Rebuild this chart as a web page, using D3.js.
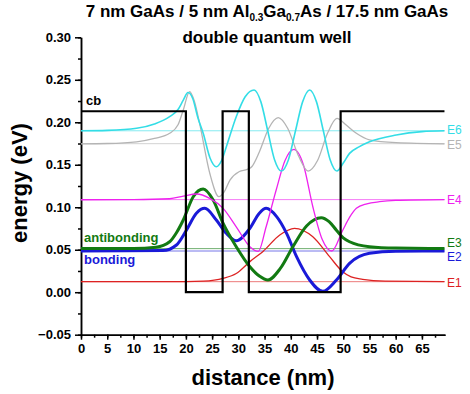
<!DOCTYPE html>
<html>
<head>
<meta charset="utf-8">
<script src="https://cdn.jsdelivr.net/npm/d3@7"></script>
<style>
  body { margin: 0; background: #fff; }
  svg { font-family: "Liberation Sans", Arial, sans-serif; }
  .axis path, .axis line { stroke: #000; stroke-width: 1.5px; }
  .axis text { font-size: 13px; font-weight: bold; fill: #000; }
</style>
</head>
<body>
<div id="chart"></div>
<script>
// Double quantum well: conduction band, levels and wavefunctions

// Conduction band profile (nm, eV)
var cbX = [0, 20, 20, 27, 27, 32, 32, 49.5, 49.5, 69.3];
var cbE = [0.213, 0.213, 0, 0, 0.213, 0.213, 0, 0, 0.213, 0.213];

// Energy levels
var levelNames = ["E1", "E2", "E3", "E4", "E5", "E6"];
var levelValues = [0.0124, 0.0485, 0.0513, 0.1090, 0.1748, 0.1900];
var levelColors = ["#dd2222", "#1a1ad8", "#127a12", "#ee22ee", "#b4b4b4", "#33dde6"];
var labelShift = [1, 6, -6, 0, 1, -1];

// Wavefunctions: [distance, energy]
var psiE1 = [[0, 0.0124], [20, 0.0125], [23.3, 0.013], [27.1, 0.0163], [29.6, 0.022], [32.2, 0.036],
  [34.7, 0.048], [37.9, 0.0673], [40.7, 0.0752], [44.2, 0.0653], [47.4, 0.0418], [49.9, 0.0241],
  [51.5, 0.018], [53.7, 0.0152], [58, 0.013], [69.3, 0.0124]];
var psiE2 = [[0, 0.0485], [15.6, 0.049], [18.2, 0.0556], [20.1, 0.073], [22, 0.0929], [23.6, 0.0987],
  [25.8, 0.085], [27.7, 0.0693], [29.6, 0.0606], [32.2, 0.0752], [34, 0.093], [35.3, 0.0987],
  [37.3, 0.089], [39.2, 0.0693], [41.1, 0.0418], [43.6, 0.0144], [46.1, 0.001], [48.7, 0.0144],
  [51.2, 0.034], [55, 0.0458], [60, 0.0483], [69.3, 0.0485]];
var psiE3 = [[0, 0.0515], [10, 0.0515], [14.3, 0.053], [16.9, 0.0594], [18.2, 0.070], [19.5, 0.085],
  [21.4, 0.1124], [23.3, 0.1215], [25.2, 0.1085], [27.1, 0.081], [29.6, 0.0536], [32.2, 0.030],
  [34, 0.019], [35.65, 0.0144], [38, 0.028], [40.4, 0.0536], [43, 0.078], [45.8, 0.0877],
  [47.3, 0.083], [48.7, 0.073], [50, 0.064], [51.2, 0.0594], [55, 0.0536], [60, 0.052], [69.3, 0.0515]];
var psiE4 = [[0, 0.1088], [10, 0.109], [16.9, 0.110], [19.5, 0.113], [22, 0.1156], [24.55, 0.1105],
  [27.1, 0.0987], [29.6, 0.077], [32.2, 0.0536], [33.8, 0.048], [35.3, 0.077], [37.2, 0.120],
  [38.9, 0.155], [40.6, 0.168], [42.4, 0.150], [44.2, 0.1006], [46, 0.062], [47.8, 0.0485],
  [49.9, 0.073], [51.2, 0.088], [52.5, 0.0987], [54.5, 0.104], [56.9, 0.1065], [60, 0.108], [69.3, 0.109]];
var psiE5 = [[0, 0.1746], [5, 0.175], [10.6, 0.177], [14, 0.181], [16.9, 0.187], [18.5, 0.197],
  [19.5, 0.2144], [20.7, 0.236], [21.6, 0.225], [22.6, 0.199], [24.55, 0.140], [26.3, 0.1124],
  [27.3, 0.118], [28.4, 0.132], [30.2, 0.142], [31.7, 0.1446], [32.6, 0.148], [34, 0.165],
  [35.8, 0.193], [37.6, 0.2054], [39.4, 0.193], [41.5, 0.160], [43.3, 0.1426], [45.1, 0.155],
  [47, 0.187], [48.8, 0.2046], [50.5, 0.197], [52.5, 0.187], [55, 0.1793], [60.1, 0.176], [69.3, 0.1746]];
var psiE6 = [[0, 0.190], [5, 0.1905], [10.6, 0.1929], [14, 0.198], [16.9, 0.2066], [18.5, 0.215],
  [19.5, 0.226], [20.4, 0.235], [21.3, 0.228], [22.3, 0.205], [23.3, 0.187], [24.6, 0.158],
  [25.8, 0.1477], [26.8, 0.155], [27.7, 0.171], [29.6, 0.2066], [31.3, 0.230], [33.0, 0.238],
  [34.3, 0.224], [35.6, 0.190], [36.9, 0.156], [38.2, 0.1426], [39.55, 0.156], [40.9, 0.190],
  [42.25, 0.224], [43.6, 0.238], [44.9, 0.224], [46.2, 0.190], [47.5, 0.156], [48.8, 0.1426],
  [50, 0.152], [51.2, 0.1634], [53, 0.171], [55, 0.177], [60.1, 0.185], [65, 0.189], [69.3, 0.190]];
var psiList = [psiE1, psiE2, psiE3, psiE4, psiE5, psiE6];
var psiWidths = [1.3, 3, 3, 1.3, 1.3, 1.6];

// Axis ticks
var xMajor = d3.range(0, 66, 5);
var xMinor = d3.range(0, 69.4, 2.5);
var yMajor = [-0.05, 0, 0.05, 0.10, 0.15, 0.20, 0.25, 0.30];
var yMinor = d3.range(-0.05, 0.301, 0.025);

var width = 470, height = 394;
var x = d3.scaleLinear().domain([0, 69.4]).range([81, 445]);
var y = d3.scaleLinear().domain([-0.05, 0.30]).range([334.7, 37.3]);

var svg = d3.select("#chart").append("svg")
  .attr("width", width)
  .attr("height", height);

// Title
var t1 = svg.append("text")
  .attr("x", 267).attr("y", 17)
  .attr("text-anchor", "middle")
  .attr("font-size", "17px").attr("font-weight", "bold");
t1.append("tspan").text("7 nm GaAs / 5 nm Al");
t1.append("tspan").attr("font-size", "10px").attr("dy", 4).text("0.3");
t1.append("tspan").attr("dy", -4).text("Ga");
t1.append("tspan").attr("font-size", "10px").attr("dy", 4).text("0.7");
t1.append("tspan").attr("dy", -4).text("As / 17.5 nm GaAs");

svg.append("text")
  .attr("x", 267).attr("y", 43)
  .attr("text-anchor", "middle")
  .attr("font-size", "17px").attr("font-weight", "bold")
  .text("double quantum well");

// Axes
svg.append("g").attr("class", "axis")
  .attr("transform", "translate(0," + y(-0.05) + ")")
  .call(d3.axisBottom(x).tickValues(xMinor).tickSize(3).tickFormat("").tickSizeOuter(0));
svg.append("g").attr("class", "axis")
  .attr("transform", "translate(0," + y(-0.05) + ")")
  .call(d3.axisBottom(x).tickValues(xMajor).tickSize(5).tickPadding(4).tickSizeOuter(0));
svg.append("g").attr("class", "axis")
  .attr("transform", "translate(" + x(0) + ",0)")
  .call(d3.axisLeft(y).tickValues(yMinor).tickSize(3).tickFormat("").tickSizeOuter(0));
svg.append("g").attr("class", "axis")
  .attr("transform", "translate(" + x(0) + ",0)")
  .call(d3.axisLeft(y).tickValues(yMajor).tickSize(6).tickPadding(4)
    .tickFormat(d3.format(".2f")).tickSizeOuter(0));

svg.append("text")
  .attr("x", 263).attr("y", 385)
  .attr("text-anchor", "middle")
  .attr("font-size", "22px").attr("font-weight", "bold")
  .text("distance (nm)");
svg.append("text")
  .attr("transform", "translate(27,183) rotate(-90)")
  .attr("text-anchor", "middle")
  .attr("font-size", "22px").attr("font-weight", "bold")
  .text("energy (eV)");

// Level lines
svg.append("g").selectAll("line")
  .data(levelValues)
  .enter().append("line")
    .attr("x1", x(0)).attr("x2", x(69.3))
    .attr("y1", function(d) { return y(d); })
    .attr("y2", function(d) { return y(d); })
    .attr("stroke", function(d, i) { return levelColors[i]; })
    .attr("stroke-opacity", 0.6)
    .attr("stroke-width", 1);

// Wavefunctions
var line = d3.line()
  .x(function(d) { return x(d[0]); })
  .y(function(d) { return y(d[1]); })
  .curve(d3.curveMonotoneX);

svg.append("g").selectAll("path")
  .data(psiList)
  .enter().append("path")
    .attr("d", line)
    .attr("fill", "none")
    .attr("stroke", function(d, i) { return levelColors[i]; })
    .attr("stroke-width", function(d, i) { return psiWidths[i]; });

// Conduction band
svg.append("path")
  .datum(d3.zip(cbX, cbE))
  .attr("d", d3.line().x(function(d) { return x(d[0]); }).y(function(d) { return y(d[1]); }))
  .attr("fill", "none")
  .attr("stroke", "#000")
  .attr("stroke-width", 2.2);

// Labels
svg.append("g").selectAll("text")
  .data(levelNames)
  .enter().append("text")
    .attr("x", 447)
    .attr("y", function(d, i) { return y(levelValues[i]) + labelShift[i]; })
    .attr("dy", "0.35em")
    .attr("font-size", "12px")
    .attr("fill", function(d, i) { return levelColors[i]; })
    .text(function(d) { return d; });

svg.append("text").attr("x", 86).attr("y", 105)
  .attr("font-size", "13px").attr("font-weight", "bold").text("cb");
svg.append("text").attr("x", 84).attr("y", 241.5)
  .attr("font-size", "13px").attr("font-weight", "bold").attr("fill", levelColors[2]).text("antibonding");
svg.append("text").attr("x", 84).attr("y", 264)
  .attr("font-size", "13px").attr("font-weight", "bold").attr("fill", levelColors[1]).text("bonding");
</script>
</body>
</html>
